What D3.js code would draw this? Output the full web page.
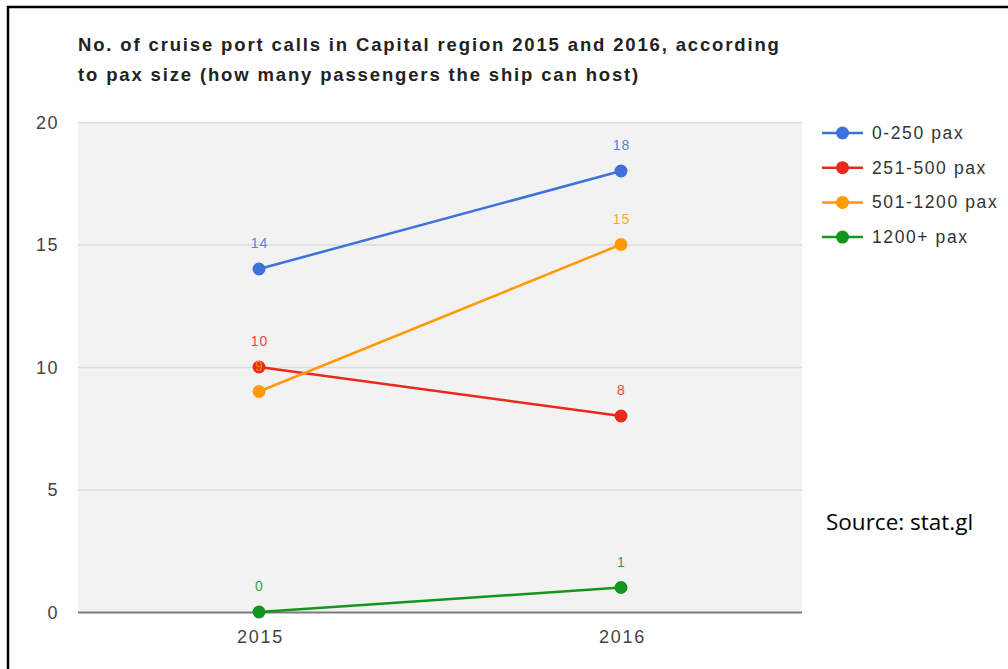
<!DOCTYPE html>
<html>
<head>
<meta charset="utf-8">
<script src="https://cdn.jsdelivr.net/npm/d3@7"></script>
<style>
  html, body { margin: 0; padding: 0; background: #fff; }
  svg { display: block; }
</style>
</head>
<body>
<svg id="chart" width="1008" height="669"></svg>
<script>
// Cruise port calls by ship size, Capital region
const years = ["2015", "2016"];
const seriesNames = ["0-250 pax", "251-500 pax", "501-1200 pax", "1200+ pax"];
const seriesColors = ["#3d72dd", "#e8291c", "#ff9a05", "#14951e"];
const calls0to250 = [14, 18];
const calls251to500 = [10, 8];
const calls501to1200 = [9, 15];
const calls1200plus = [0, 1];
const yTicks = [0, 5, 10, 15, 20];

const seriesValues = [calls0to250, calls251to500, calls501to1200, calls1200plus];

const FONT = "Arial, 'Liberation Sans', sans-serif";
const svg = d3.select("#chart");
const plot = { left: 78, right: 802, top: 122, bottom: 612 };

// frame lines along top and left edge
svg.append("line").attr("x1", 7).attr("x2", 1008).attr("y1", 7).attr("y2", 7)
  .attr("stroke", "#000").attr("stroke-width", 2.5);
svg.append("line").attr("x1", 8).attr("x2", 8).attr("y1", 6).attr("y2", 669)
  .attr("stroke", "#000").attr("stroke-width", 2.5);

// title
const title = svg.append("text")
  .attr("font-family", FONT).attr("font-weight", "bold")
  .attr("font-size", 18.5).attr("letter-spacing", 1.85).attr("fill", "#222");
title.append("tspan").attr("x", 78).attr("y", 51)
  .text("No. of cruise port calls in Capital region 2015 and 2016, according");
title.append("tspan").attr("x", 78).attr("y", 81)
  .text("to pax size (how many passengers the ship can host)");

const x = d3.scalePoint().domain(years).range([plot.left, plot.right]).padding(0.5);
const y = d3.scaleLinear().domain([0, 20]).range([plot.bottom, plot.top]);

// plot background
svg.append("rect").attr("x", plot.left).attr("y", plot.top)
  .attr("width", plot.right - plot.left).attr("height", plot.bottom - plot.top)
  .attr("fill", "#f2f2f2");

// horizontal gridlines with tick labels
const yAxis = svg.append("g").attr("transform", `translate(${plot.left},0)`)
  .call(d3.axisLeft(y).tickValues(yTicks).tickSize(-(plot.right - plot.left)).tickPadding(19));
yAxis.select(".domain").remove();
yAxis.selectAll(".tick line")
  .attr("stroke", d => d === 0 ? "#7a7a7a" : "#dcdcdc")
  .attr("stroke-width", d => d === 0 ? 2 : 1.5);
yAxis.selectAll(".tick text")
  .attr("font-family", FONT).attr("font-size", 18).attr("letter-spacing", 1.5)
  .attr("fill", "#444").attr("dy", "0.36em");

// x axis labels
const xAxis = svg.append("g").attr("transform", `translate(0,${plot.bottom})`)
  .call(d3.axisBottom(x).tickSize(0).tickPadding(18));
xAxis.select(".domain").remove();
xAxis.selectAll(".tick text")
  .attr("font-family", FONT).attr("font-size", 18).attr("letter-spacing", 1.8)
  .attr("fill", "#444").attr("dx", 1);

const line = d3.line().x((d, i) => x(years[i])).y(d => y(d));

seriesValues.forEach((vals, s) => {
  const g = svg.append("g");
  g.append("path").datum(vals).attr("d", line)
    .attr("fill", "none").attr("stroke", seriesColors[s]).attr("stroke-width", 2.5);
  g.selectAll("circle").data(vals).join("circle")
    .attr("cx", (d, i) => x(years[i])).attr("cy", d => y(d)).attr("r", 6.5)
    .attr("fill", seriesColors[s]);
});

// value labels above points
seriesValues.forEach((vals, s) => {
  svg.append("g").selectAll("text").data(vals).join("text")
    .attr("x", (d, i) => x(years[i]) + 0.5).attr("y", d => y(d) - 21)
    .attr("text-anchor", "middle")
    .attr("font-family", FONT).attr("font-size", 14).attr("letter-spacing", 1)
    .attr("fill", seriesColors[s]).attr("opacity", 0.85)
    .text(d => d);
});

// legend
const legend = svg.append("g");
seriesNames.forEach((name, s) => {
  const ly = 133 + s * 34.7;
  legend.append("line").attr("x1", 822).attr("x2", 863).attr("y1", ly).attr("y2", ly)
    .attr("stroke", seriesColors[s]).attr("stroke-width", 2.5);
  legend.append("circle").attr("cx", 842.5).attr("cy", ly).attr("r", 6.5).attr("fill", seriesColors[s]);
  legend.append("text").attr("x", 872).attr("y", ly + 6)
    .attr("font-family", FONT).attr("font-size", 17.5).attr("letter-spacing", 1.6)
    .attr("fill", "#333").text(name);
});

// source note
svg.append("text").attr("x", 826).attr("y", 530)
  .attr("font-family", "'Open Sans', sans-serif").attr("font-size", 22.5).attr("fill", "#000")
  .text("Source: stat.gl");
</script>
</body>
</html>
